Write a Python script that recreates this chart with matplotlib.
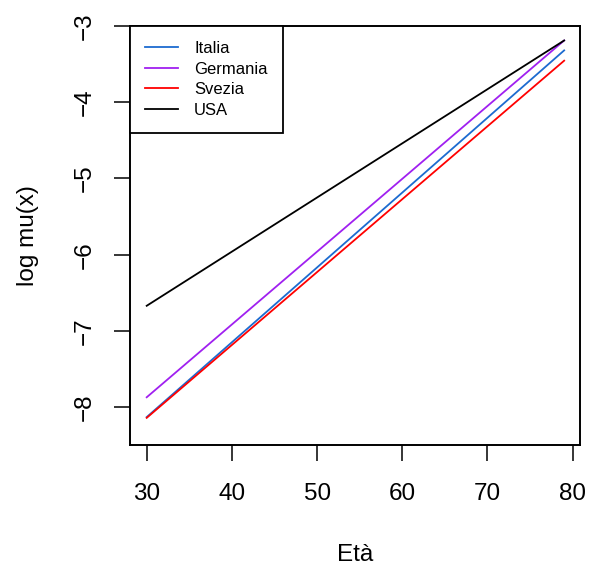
import matplotlib
matplotlib.use("Agg")
import matplotlib.pyplot as plt

plt.rcParams['font.family'] = ['Liberation Sans', 'DejaVu Sans']

# Data: log mu(x) at ages 30 and 79 (straight Gompertz lines)
ages = [30, 79]
countries = ["Italia", "Germania", "Svezia", "USA"]
italia = [-8.13, -3.32]
germania = [-7.87, -3.19]
svezia = [-8.14, -3.455]
usa = [-6.67, -3.19]
colors = ["#1C6BD0", "#A020F0", "#FF0000", "#000000"]

xticks = [30, 40, 50, 60, 70, 80]
yticks = [-8, -7, -6, -5, -4, -3]

fig = plt.figure(figsize=(5.89, 5.67), dpi=100)
ax = fig.add_axes([130/589, 1-445.3/567, 450/589, 419.3/567])

for name, vals, c in zip(countries, [italia, germania, svezia, usa], colors):
    ax.plot(ages, vals, color=c, lw=1.3, label=name)

ax.set_xlim(28.04, 80.86)
ax.set_ylim(-8.5, -3.0)
ax.set_xticks(xticks)
ax.set_yticks(yticks)
ax.set_yticklabels([f"\u2212{abs(v)}" for v in yticks], rotation=90, va='center')
ax.tick_params(axis='both', labelsize=17.5, length=11.5, width=1.1, direction='out')
ax.tick_params(axis='x', pad=16)
ax.tick_params(axis='y', pad=12.8)
for s in ax.spines.values():
    s.set_linewidth(1.4)

ax.set_xlabel("Età", fontsize=17.5, va='center')
ax.xaxis.set_label_coords(0.5, -0.2616)
ax.set_ylabel("log mu(x)", fontsize=17.5, va='center')
ax.yaxis.set_label_coords(-0.2270, 0.5)

leg = ax.legend(loc='upper left', bbox_to_anchor=(0, 1), borderaxespad=0,
                fancybox=False, edgecolor='black', fontsize=12,
                handlelength=2.0, handletextpad=0.95, labelspacing=0.34,
                borderpad=0.9, framealpha=1)
leg.get_frame().set_linewidth(1.3)

fig.savefig("out.png", dpi=100)
